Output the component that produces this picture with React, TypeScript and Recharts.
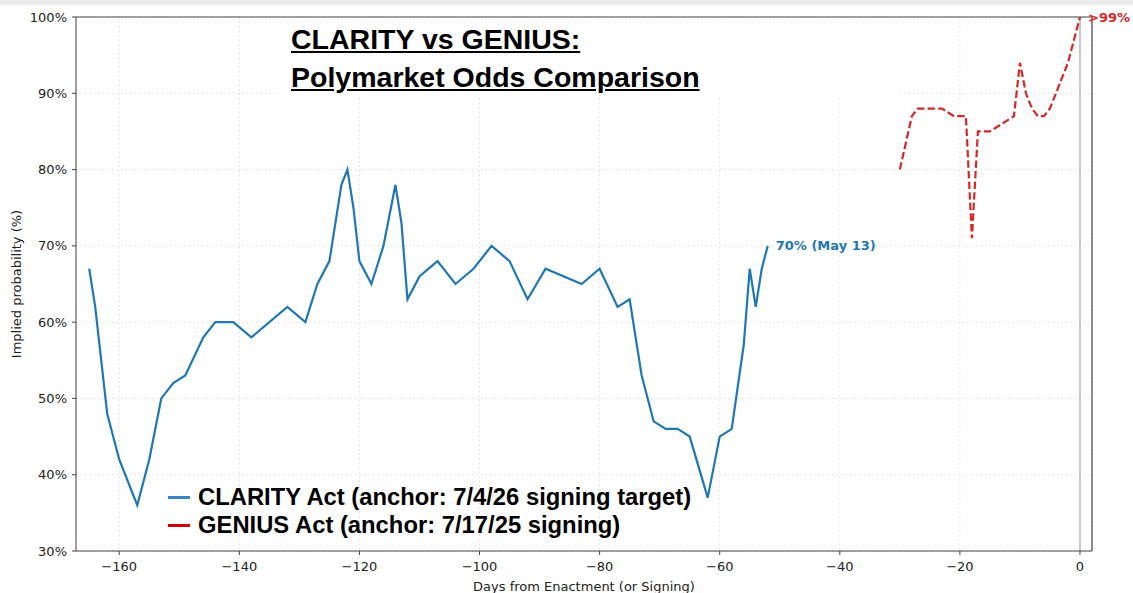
import {
  LineChart, Line, XAxis, YAxis, CartesianGrid, ReferenceLine,
} from "recharts";

// Days from enactment/signing and Polymarket implied odds (%)
const clarityDays = [
  -165, -164, -162, -160, -157, -155, -153, -151, -149, -146, -144, -141, -138,
  -132, -129, -127, -125, -123, -122, -121, -120, -118, -116, -114, -113, -112,
  -110, -107, -104, -101, -98, -95, -92, -89, -83, -80, -77, -75, -73, -71, -69,
  -67, -65, -62, -60, -58, -56, -55, -54, -53, -52,
];
const clarityOdds = [
  67, 62, 48, 42, 36, 42, 50, 52, 53, 58, 60, 60, 58,
  62, 60, 65, 68, 78, 80, 75, 68, 65, 70, 78, 73, 63,
  66, 68, 65, 67, 70, 68, 63, 67, 65, 67, 62, 63, 53, 47, 46,
  46, 45, 37, 45, 46, 57, 67, 62, 67, 70,
];

const geniusDays = [-30, -28, -27, -23, -21, -19, -18, -17, -15, -11, -10, -9, -8, -7, -6, -5, -4, -2, 0];
const geniusOdds = [80, 87, 88, 88, 87, 87, 71, 85, 85, 87, 94, 90, 88, 87, 87, 88, 90, 94, 100];

const xTicks = [-160, -140, -120, -100, -80, -60, -40, -20, 0];
const yTicks = [30, 40, 50, 60, 70, 80, 90, 100];

const clarityData = clarityDays.map((day, i) => ({ day, odds: clarityOdds[i] }));
const geniusData = geniusDays.map((day, i) => ({ day, odds: geniusOdds[i] }));

const BLUE = "#1f77b4";
const RED = "#d62728";
const TICK = { fontSize: 13, fill: "#222", fontFamily: "DejaVu Sans" };
const fmtMinus = (v: number) => (v < 0 ? `\u2212${Math.abs(v)}` : `${v}`);

function LastLabel({ x, y, index, text, color, last }: any) {
  if (index !== last) return null;
  return (
    <text
      x={x + 8} y={y} dominantBaseline="central" fill={color}
      fontFamily="DejaVu Sans" fontWeight="bold" fontSize={13}
    >
      {text}
    </text>
  );
}

export default function App() {
  return (
    <div style={{ position: "absolute", left: 0, top: 0, width: 1133, height: 593, background: "#fff" }}>
      <style>{`body{margin:0}`}</style>
      <div style={{ position: "absolute", left: 0, top: 0, width: 1133, height: 5, background: "#ececec", zIndex: 3 }} />
      <LineChart width={1133} height={593} data={clarityData} margin={{ top: 17, right: 41, left: 0, bottom: 0 }}>
        <CartesianGrid stroke="#dcdcdc" strokeDasharray="1.5 3" />
        <XAxis
          type="number" dataKey="day" domain={[-167.2, 2]} ticks={xTicks} allowDataOverflow
          height={42} tick={TICK} tickFormatter={fmtMinus} tickSize={4} tickMargin={7}
          stroke="#444" tickLine={{ stroke: "#444" }}
          label={{ value: "Days from Enactment (or Signing)", position: "insideBottom", offset: 2, fontSize: 13, fill: "#222", fontFamily: "DejaVu Sans" }}
        />
        <YAxis
          type="number" domain={[30, 100]} ticks={yTicks} allowDataOverflow width={76}
          tick={TICK} tickFormatter={(v: number) => `${v}%`} tickSize={4} tickMargin={5}
          stroke="#444" tickLine={{ stroke: "#444" }}
          label={{ value: "Implied probability (%)", angle: -90, position: "insideLeft", offset: 16, fontSize: 13, fill: "#222", fontFamily: "DejaVu Sans", style: { textAnchor: "middle" } }}
        />
        <ReferenceLine x={0} stroke="#c8c8c8" strokeWidth={2} />
        <ReferenceLine x={2} stroke="#444" strokeWidth={1.2} />
        <ReferenceLine y={100} stroke="#444" strokeWidth={1.2} />
        <Line
          data={clarityData} dataKey="odds" type="linear" stroke={BLUE} strokeWidth={2.2}
          dot={false} activeDot={false} isAnimationActive={false}
          label={(p: any) => <LastLabel key="cl" {...p} text="70% (May 13)" color={BLUE} last={clarityData.length - 1} />}
        />
        <Line
          data={geniusData} dataKey="odds" type="linear" stroke={RED} strokeWidth={2.2}
          strokeDasharray="7.4 3.2" dot={false} activeDot={false} isAnimationActive={false}
          label={(p: any) => <LastLabel key="ge" {...p} text=">99%" color={RED} last={geniusData.length - 1} />}
        />
      </LineChart>
      <div style={{
        position: "absolute", left: 275, top: 18, width: 625, height: 79, background: "#fff",
        fontFamily: "Liberation Sans", fontWeight: "bold", fontSize: 28.5, color: "#000", lineHeight: "38px",
      }}>
        <div style={{ position: "absolute", left: 16, top: 2 }}>
          <div><span style={{ textDecoration: "underline" }}>CLARITY vs GENIUS:</span></div>
          <div><span style={{ textDecoration: "underline" }}>Polymarket Odds Comparison</span></div>
        </div>
      </div>
      <div style={{
        position: "absolute", left: 168, top: 483, fontFamily: "Liberation Sans", fontWeight: "bold",
        fontSize: 23.8, color: "#000", lineHeight: "28px",
      }}>
        {[
          { c: "#3a86c8", t: "CLARITY Act (anchor: 7/4/26 signing target)" },
          { c: "#d00000", t: "GENIUS Act (anchor: 7/17/25 signing)" },
        ].map((r) => (
          <div key={r.t} style={{ display: "flex", alignItems: "center" }}>
            <span style={{ display: "inline-block", width: 22, height: 3, background: r.c, marginRight: 8 }} />
            <span>{r.t}</span>
          </div>
        ))}
      </div>
    </div>
  );
}
